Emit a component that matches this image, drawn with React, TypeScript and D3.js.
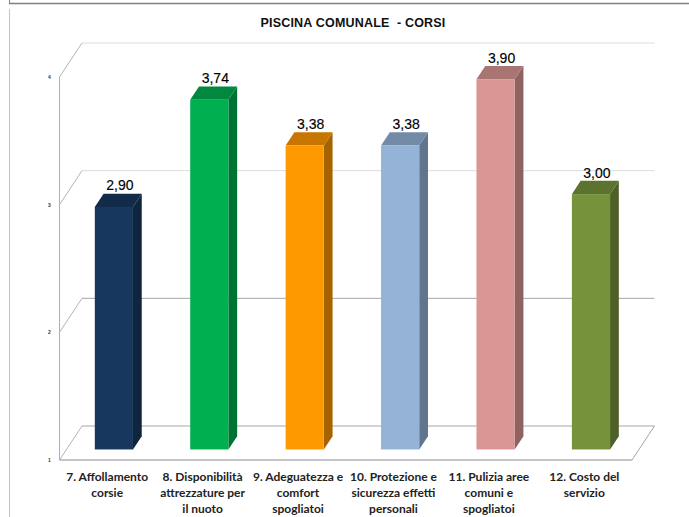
import React from 'react'
import * as d3 from 'd3'

const title = 'PISCINA COMUNALE  - CORSI'

const categories = [
  ['7. Affollamento', 'corsie'],
  ['8. Disponibilità', 'attrezzature per', 'il nuoto'],
  ['9. Adeguatezza e', 'comfort', 'spogliatoi'],
  ['10. Protezione e', 'sicurezza effetti', 'personali'],
  ['11. Pulizia aree', 'comuni e', 'spogliatoi'],
  ['12. Costo del', 'servizio'],
]
const values = [2.9, 3.74, 3.38, 3.38, 3.9, 3.0]
const valueLabels = ['2,90', '3,74', '3,38', '3,38', '3,90', '3,00']
const barColors = ['#17375e', '#00b050', '#ff9900', '#95b3d7', '#d99694', '#76933c']
const yTicks = [1, 2, 3, 4]
const gridColors = ['#a6a6a6', '#a6a6a6', '#dcdcdc', '#dcdcdc']

const width = 689
const height = 517

// front plane of the fake 3d box
const left = 59.5
const right = 632
const y = d3.scaleLinear().domain([1, 4]).range([460, 77])
const x = d3.scaleBand<number>()
  .domain(d3.range(categories.length))
  .range([left, right])
  .paddingInner(0.6)
  .paddingOuter(0.3)

// how far the back wall is pushed from the front plane
const depthX = 22.5
const depthY = -34
const barDepth = 0.31
const barThick = 0.39

const arial = '"Liberation Sans", Arial, sans-serif'
const labelFont = 'Lato, "Open Sans", sans-serif'

export default function App() {
  const barW = x.bandwidth()
  const baseY = y(1) + depthY * barDepth
  const shiftX = depthX * barDepth
  const sideX = depthX * barThick
  const sideY = depthY * barThick
  const line = d3.line()

  return (
    <svg width={width} height={height} style={{ position: 'absolute', left: 0, top: 0, background: '#fff' }}>
      {/* frame around the pasted chart */}
      <line x1={9} x2={width} y1={3.5} y2={3.5} stroke="#808080" strokeWidth={1.5} />
      <line x1={9.5} x2={9.5} y1={0} y2={4} stroke="#808080" />
      <line x1={9.5} x2={9.5} y1={9} y2={height} stroke="#c4c4c4" />

      <text x={353} y={27} textAnchor="middle" fontFamily={arial} fontWeight="bold" fontSize={12.5} letterSpacing={0.2} fill="#111" style={{ whiteSpace: 'pre' }}>{title}</text>

      {/* back wall gridlines and the slanted side wall */}
      {yTicks.map((t, i) => (
        <g key={t} fill="none">
          <line x1={left + depthX} x2={right + depthX} y1={y(t) + depthY} y2={y(t) + depthY} stroke={gridColors[i]} />
          <line x1={left} x2={left + depthX} y1={y(t)} y2={y(t) + depthY} stroke="#b4b4b4" />
          <text x={49.5} y={y(t) + 2} textAnchor="middle" fontFamily={arial} fontSize={5} fontWeight="bold" fill="#333">{t}</text>
        </g>
      ))}
      <line x1={left} x2={left} y1={y(4)} y2={y(1)} stroke="#b0b0b0" />
      <line x1={left} x2={right} y1={y(1)} y2={y(1)} stroke="#8c8c8c" />
      <line x1={right} x2={right + depthX} y1={y(1)} y2={y(1) + depthY} stroke="#a6a6a6" />

      {values.map((v, i) => {
        const x0 = (x(i) as number) + shiftX - 0.3
        const x1 = x0 + barW
        const top = y(v) + depthY * barDepth
        const base = d3.color(barColors[i])!
        return (
          <g key={i}>
            <path
              d={line([[x1, top], [x1 + sideX, top + sideY], [x1 + sideX, baseY + sideY], [x1, baseY]])!}
              fill={base.darker(1.2).formatHex()}
            />
            <path
              d={line([[x0, top], [x1, top], [x1 + sideX, top + sideY], [x0 + sideX, top + sideY]])!}
              fill={base.darker(0.7).formatHex()}
            />
            <rect x={x0} y={top} width={barW} height={baseY - top} fill={barColors[i]} />
            <text x={x0 + barW / 2 + 6} y={top - 16.5} textAnchor="middle" fontFamily={arial} fontSize={14} fill="#000" stroke="#000" strokeWidth={0.15}>{valueLabels[i]}</text>
          </g>
        )
      })}

      {categories.map((lines, i) => (
        <text key={i} textAnchor="middle" fontFamily={labelFont} fontWeight="bold" fontSize={12} fill="#222">
          {lines.map((l, j) => (
            <tspan key={j} x={(x(i) as number) + barW / 2} y={481 + j * 15.8}>{l}</tspan>
          ))}
        </text>
      ))}
    </svg>
  )
}
